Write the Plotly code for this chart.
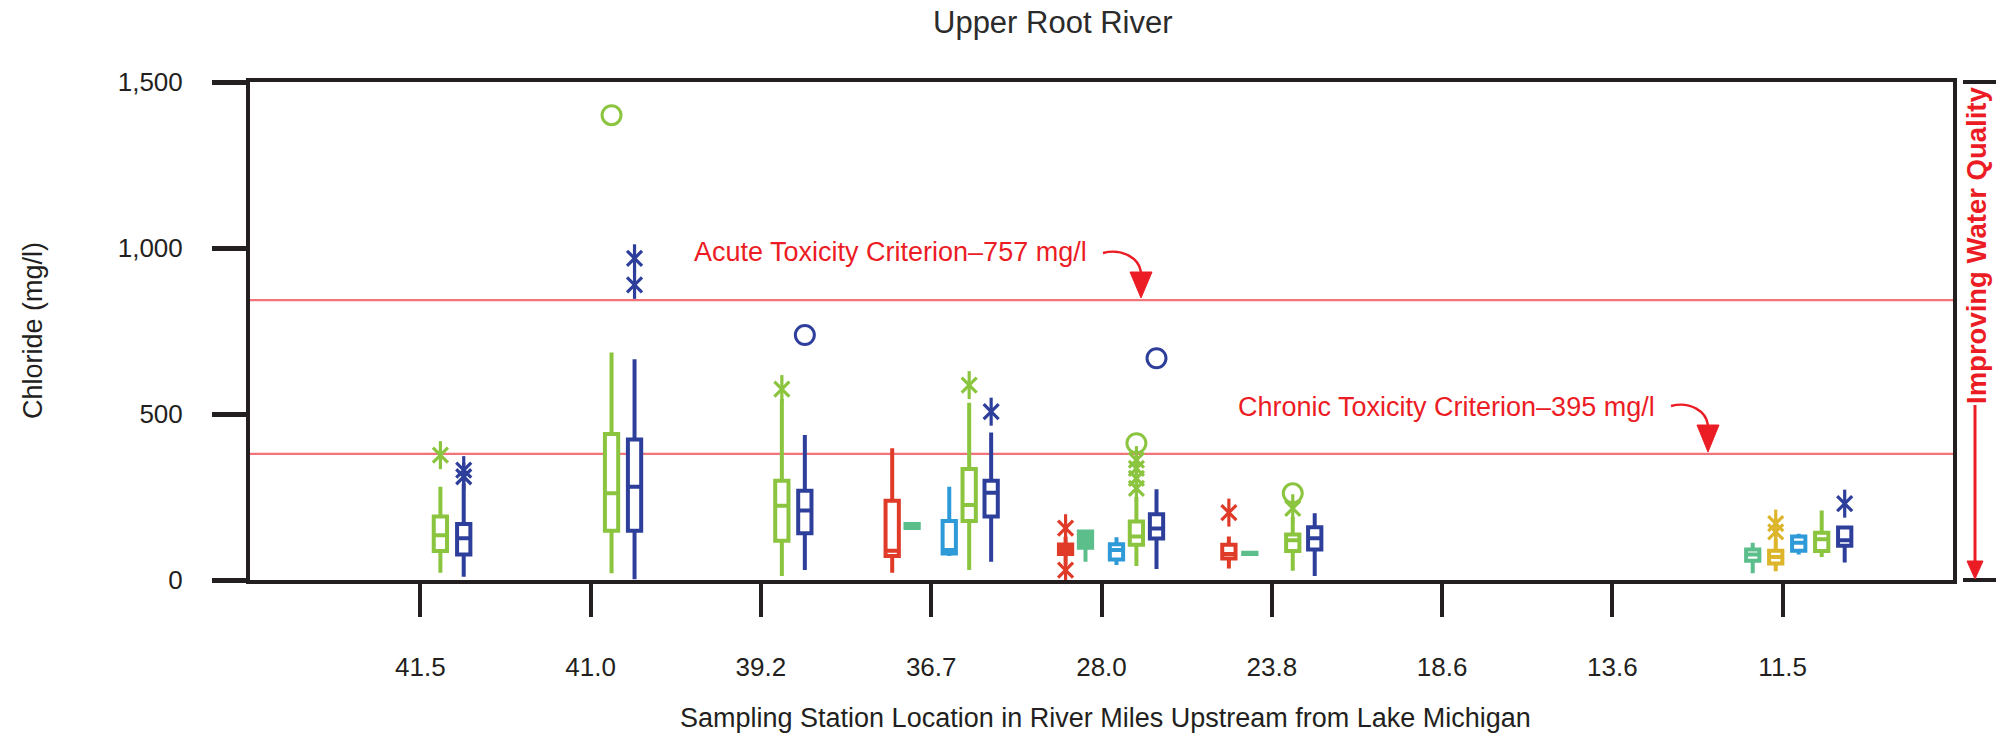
import plotly.graph_objects as go

# ---------------- data ----------------
stations = ["41.5", "41.0", "39.2", "36.7", "28.0", "23.8", "18.6", "13.6", "11.5"]
y_tick_vals = [0, 500, 1000, 1500]
y_tick_text = ["0", "500", "1,000", "1,500"]

acute_level = 843      # drawn level of the acute criterion line
chronic_level = 380    # drawn level of the chronic criterion line

# box statistics per station: [lower whisker, Q1, median, Q3, upper whisker]
red_stats = {"36.7": [22, 72, 88, 239, 397], "28.0": [45, 78, 92, 107, 130],
             "23.8": [35, 65, 78, 106, 131]}
red_stars = {"28.0": [156, 30], "23.8": [203]}
red_circles = {}

teal_stats = {"36.7": [157, 157, 163, 169, 169], "28.0": [55, 97, 125, 146, 152],
              "23.8": [78, 78, 80, 82, 82], "11.5": [20, 58, 77, 92, 112]}
teal_stars = {}
teal_circles = {}

ltblue_stats = {"36.7": [72, 80, 90, 178, 281], "28.0": [45, 62, 90, 108, 129],
                "11.5": [77, 88, 112, 131, 139]}
ltblue_stars = {}
ltblue_circles = {}

yellow_stats = {"11.5": [26, 50, 69, 88, 125]}
yellow_stars = {"11.5": [170, 145]}
yellow_circles = {}

green_stats = {"41.5": [22, 87, 135, 191, 281], "41.0": [20, 148, 261, 440, 685],
               "39.2": [12, 118, 224, 299, 545], "36.7": [30, 178, 226, 334, 534],
               "28.0": [42, 106, 131, 176, 250], "23.8": [28, 87, 120, 137, 190],
               "11.5": [69, 87, 123, 142, 209]}
green_stars = {"41.5": [376], "39.2": [575], "36.7": [587],
               "28.0": [276, 306, 336, 361], "23.8": [216]}
green_circles = {"41.0": [1400], "28.0": [412], "23.8": [261]}

blue_stats = {"41.5": [10, 77, 126, 169, 290], "41.0": [2, 148, 281, 423, 665],
              "39.2": [30, 141, 209, 269, 437], "36.7": [55, 191, 263, 299, 444],
              "28.0": [33, 125, 155, 198, 273], "23.8": [12, 92, 126, 159, 201],
              "11.5": [53, 103, 120, 158, 162]}
blue_stars = {"41.5": [331, 311], "41.0": [969, 889], "36.7": [507], "11.5": [230]}
blue_circles = {"39.2": [738], "28.0": [668]}

# ---------------- styling / layout ----------------
series = [
    ("red", "#E03A28", red_stats, red_stars, red_circles),
    ("teal", "#5CBF8B", teal_stats, teal_stars, teal_circles),
    ("ltblue", "#2E9AD8", ltblue_stats, ltblue_stars, ltblue_circles),
    ("yellow", "#DDB52B", yellow_stats, yellow_stars, yellow_circles),
    ("green", "#8BC53F", green_stats, green_stars, green_circles),
    ("blue", "#2E3F9B", blue_stats, blue_stars, blue_circles),
]

# horizontal offset of each box from its station tick (axis units)
offsets = {
    "red":    {"36.7": -0.229, "28.0": -0.211, "23.8": -0.252},
    "teal":   {"36.7": -0.112, "28.0": -0.094, "23.8": -0.129, "11.5": -0.176},
    "ltblue": {"36.7": 0.106, "28.0": 0.088, "11.5": 0.094},
    "yellow": {"11.5": -0.041},
    "green":  {"41.5": 0.118, "41.0": 0.123, "39.2": 0.123, "36.7": 0.223,
               "28.0": 0.205, "23.8": 0.123, "11.5": 0.229},
    "blue":   {"41.5": 0.255, "41.0": 0.258, "39.2": 0.258, "36.7": 0.352,
               "28.0": 0.323, "23.8": 0.252, "11.5": 0.364},
}
solid = {("teal", "36.7"), ("teal", "28.0"), ("teal", "23.8"), ("red", "28.0")}

FONT = "Liberation Sans, Arial, Helvetica, sans-serif"
INK = "#231F20"
RED = "#EC1C24"
LINE_RED = "rgba(236,40,50,0.65)"
BOX_W = 0.078

# pixel geometry of the plot area
L, R, T, B = 250, 1953, 82, 580
W, H = 2003, 737
XR = (0, 10)
YR = (0, 1500)


def px_x(px):   # pixel -> data x
    return XR[0] + (px - L) / (R - L) * (XR[1] - XR[0])


def px_y(py):   # pixel -> data y
    return YR[0] + (B - py) / (B - T) * (YR[1] - YR[0])


def pp_x(px):   # pixel -> paper x
    return (px - L) / (R - L)


def pp_y(py):   # pixel -> paper y
    return (B - py) / (B - T)


pos = {s: i + 1 for i, s in enumerate(stations)}

fig = go.Figure()

for key, color, stats, stars, circles in series:
    for st, (lf, q1, med, q3, uf) in stats.items():
        x = pos[st] + offsets[key][st]
        fig.add_trace(go.Box(
            x=[x], q1=[q1], median=[med], q3=[q3], lowerfence=[lf], upperfence=[uf],
            orientation="v", width=BOX_W, whiskerwidth=0, boxpoints=False,
            line=dict(color=color, width=4),
            fillcolor=color if (key, st) in solid else "white",
            showlegend=False, hoverinfo="skip"))
    sx, sy = [], []
    for st, vals in stars.items():
        for v in vals:
            sx.append(pos[st] + offsets[key][st])
            sy.append(v)
    if sx:
        for sym, size in (("x-thin-open", 15), ("line-ns-open", 20)):
            fig.add_trace(go.Scatter(x=sx, y=sy, mode="markers", cliponaxis=False,
                                     marker=dict(symbol=sym, size=size, color=color,
                                                 line=dict(color=color, width=3.2)),
                                     showlegend=False, hoverinfo="skip"))
    cx, cy = [], []
    for st, vals in circles.items():
        for v in vals:
            cx.append(pos[st] + offsets[key][st])
            cy.append(v)
    if cx:
        fig.add_trace(go.Scatter(x=cx, y=cy, mode="markers", cliponaxis=False,
                                 marker=dict(symbol="circle-open", size=19, color=color,
                                             line=dict(color=color, width=3)),
                                 showlegend=False, hoverinfo="skip"))

shapes = []
# criterion lines
for lvl in (acute_level, chronic_level):
    shapes.append(dict(type="line", xref="x", yref="y", x0=XR[0], x1=XR[1], y0=lvl, y1=lvl,
                       line=dict(color=LINE_RED, width=2.2), layer="below"))


def curved_arrow(p0, c1, c2, p1, tip, half_w):
    path = "M {},{} C {},{} {},{} {},{}".format(
        px_x(p0[0]), px_y(p0[1]), px_x(c1[0]), px_y(c1[1]),
        px_x(c2[0]), px_y(c2[1]), px_x(p1[0]), px_y(p1[1]))
    shapes.append(dict(type="path", xref="x", yref="y", path=path,
                       line=dict(color=RED, width=2.4)))
    tri = "M {},{} L {},{} L {},{} Z".format(
        px_x(p1[0] - half_w), px_y(p1[1]), px_x(p1[0] + half_w), px_y(p1[1]),
        px_x(tip[0]), px_y(tip[1]))
    shapes.append(dict(type="path", xref="x", yref="y", path=tri,
                       fillcolor=RED, line=dict(color=RED, width=1)))


curved_arrow((1103, 253), (1122, 248), (1139, 258), (1141, 272), (1141, 298), 11)
curved_arrow((1671, 406), (1690, 401), (1706, 411), (1708, 425), (1708, 452), 11)

# right-hand "Improving Water Quality" marker
for yb in (T, B):
    shapes.append(dict(type="line", xref="paper", yref="paper",
                       x0=pp_x(1963), x1=pp_x(1996), y0=pp_y(yb), y1=pp_y(yb),
                       line=dict(color=INK, width=4)))
shapes.append(dict(type="line", xref="paper", yref="paper",
                   x0=pp_x(1975), x1=pp_x(1975), y0=pp_y(405), y1=pp_y(563),
                   line=dict(color=RED, width=3)))
shapes.append(dict(type="path", xref="paper", yref="paper",
                   path="M {},{} L {},{} L {},{} Z".format(
                       pp_x(1967), pp_y(561), pp_x(1983), pp_y(561), pp_x(1975), pp_y(579)),
                   fillcolor=RED, line=dict(color=RED, width=1)))

annotations = [
    dict(text="Upper Root River", xref="paper", yref="paper", x=pp_x(1052), y=pp_y(22),
         xanchor="center", yanchor="middle", showarrow=False,
         font=dict(family=FONT, size=31, color="#2B2B2B")),
    dict(text="Sampling Station Location in River Miles Upstream from Lake Michigan",
         xref="paper", yref="paper", x=pp_x(1105), y=pp_y(718),
         xanchor="center", yanchor="middle", showarrow=False,
         font=dict(family=FONT, size=27, color=INK)),
    dict(text="Chloride (mg/l)", xref="paper", yref="paper", x=pp_x(33), y=pp_y(330),
         xanchor="center", yanchor="middle", textangle=-90, showarrow=False,
         font=dict(family=FONT, size=27, color=INK)),
    dict(text="Acute Toxicity Criterion\u2013757 mg/l", xref="x", yref="y",
         x=px_x(692), y=px_y(252), xanchor="left", yanchor="middle", showarrow=False,
         font=dict(family=FONT, size=27, color=RED)),
    dict(text="Chronic Toxicity Criterion\u2013395 mg/l", xref="x", yref="y",
         x=px_x(1236), y=px_y(407), xanchor="left", yanchor="middle", showarrow=False,
         font=dict(family=FONT, size=27, color=RED)),
    dict(text="<b>Improving Water Quality</b>", xref="paper", yref="paper",
         x=pp_x(1977), y=pp_y(245), xanchor="center", yanchor="middle",
         textangle=-90, showarrow=False,
         font=dict(family=FONT, size=27.5, color=RED)),
]

fig.update_layout(
    width=W, height=H,
    margin=dict(l=L, r=W - R, t=T, b=H - B, pad=0),
    paper_bgcolor="white", plot_bgcolor="white",
    showlegend=False,
    shapes=shapes, annotations=annotations,
    xaxis=dict(range=list(XR), tickmode="array", tickvals=[pos[s] for s in stations],
               ticktext=stations, ticks="outside", ticklen=33, tickwidth=4, tickcolor=INK,
               showline=True, linewidth=4, linecolor=INK, mirror=True,
               showgrid=False, zeroline=False, ticklabelstandoff=28,
               tickfont=dict(family=FONT, size=26, color=INK), fixedrange=True),
    yaxis=dict(range=list(YR), tickmode="array", tickvals=y_tick_vals, ticktext=y_tick_text,
               ticks="outside", ticklen=34, tickwidth=5, tickcolor=INK,
               showline=True, linewidth=4, linecolor=INK, mirror=True,
               showgrid=False, zeroline=False, ticklabelstandoff=24,
               tickfont=dict(family=FONT, size=26, color=INK), fixedrange=True),
)

fig.write_html("out.html")
